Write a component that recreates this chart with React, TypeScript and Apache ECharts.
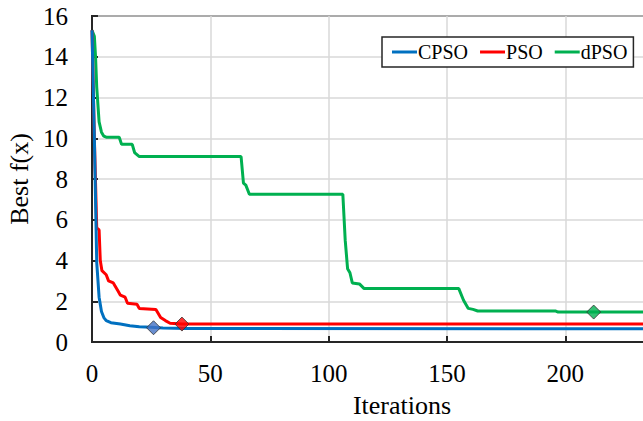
import React, { useEffect, useRef } from "react";
import * as echarts from "echarts";

const seriesNames = ["CPSO", "PSO", "dPSO"];
const colors = ["#0070C0", "#FF0000", "#00B050"];
const markerFills = ["#4472C4", "#FF0000", "#00B050"];

const cpsoIter = [0, 1, 2, 3, 4, 5, 6, 8, 12, 16, 20, 25, 30, 40, 262];
const cpsoVal = [15.3, 10, 3.9, 2.2, 1.5, 1.2, 1.05, 0.95, 0.88, 0.8, 0.75, 0.72, 0.69, 0.66, 0.65];

const psoIter = [0, 1, 2, 3, 3.5, 4.2, 6, 7, 9, 11, 12, 14, 15, 19, 20, 27, 28, 29, 31, 33, 38, 262];
const psoVal = [15.3, 10, 5.6, 5.5, 4, 3.5, 3.3, 3.0, 2.9, 2.5, 2.3, 2.2, 1.9, 1.85, 1.65, 1.6, 1.4, 1.2, 1.05, 0.92, 0.88, 0.88];

const dpsoIter = [0, 1, 1.5, 2, 3, 4, 5, 6, 11.5, 12.5, 17, 18, 19, 20, 63, 64, 65, 66.5, 106, 107, 108, 109, 110, 113, 115, 155, 157, 159, 161, 163, 196, 197, 262];
const dpsoVal = [15.3, 15, 14, 12.5, 10.8, 10.3, 10.1, 10.05, 10.05, 9.7, 9.7, 9.3, 9.2, 9.1, 9.1, 7.8, 7.7, 7.25, 7.25, 5, 3.6, 3.4, 2.9, 2.85, 2.62, 2.62, 2.05, 1.65, 1.6, 1.52, 1.52, 1.47, 1.47];

const markerIter = [26, 38, 212];
const markerVal = [0.7, 0.88, 1.47];

const xTickInterval = 50;
const xVisibleMax = 233;
const yMax = 16;
const yInterval = 2;

const FONT = "Liberation Serif";

function pairs(xs: number[], ys: number[]) {
  return xs.map((x, i) => [x, ys[i]]);
}

export default function App() {
  const ref = useRef<HTMLDivElement>(null);
  useEffect(() => {
    if (!ref.current) return;
    const chart = echarts.init(ref.current, undefined, { renderer: "svg" });
    const lineData = [pairs(cpsoIter, cpsoVal), pairs(psoIter, psoVal), pairs(dpsoIter, dpsoVal)];
    const zs = [4, 3, 2];
    const lineSeries = seriesNames.map((name, i) => ({
      name,
      type: "line",
      data: lineData[i],
      showSymbol: false,
      symbol: "none",
      lineStyle: { color: colors[i], width: 3 },
      itemStyle: { color: colors[i] },
      z: zs[i],
    }));
    const markerSeries = markerIter.map((x, i) => ({
      name: seriesNames[i] + "-marker",
      type: "scatter",
      data: [[x, markerVal[i]]],
      symbol: "diamond",
      symbolSize: 14,
      itemStyle: { color: markerFills[i], borderColor: "#333", borderWidth: 1 },
      z: 10,
    }));
    chart.setOption({
      animation: false,
      backgroundColor: "#fff",
      textStyle: { fontFamily: FONT },
      grid: {
        left: 92,
        top: 16,
        width: 620,
        height: 326,
        containLabel: false,
        outerBoundsMode: "none",
        show: true,
        borderColor: "#262626",
        borderWidth: 2,
        backgroundColor: "transparent",
      },
      legend: {
        data: seriesNames,
        left: 382,
        top: 37,
        orient: "horizontal",
        icon: "rect",
        itemWidth: 25,
        itemHeight: 3,
        itemGap: 12,
        padding: [5, 6, 5, 10],
        borderColor: "#262626",
        borderWidth: 1.5,
        backgroundColor: "#fff",
        textStyle: { fontFamily: FONT, fontSize: 20, color: "#000", padding: [0, 0, 0, -4] },
      },
      xAxis: {
        type: "value",
        min: 0,
        max: 262,
        interval: xTickInterval,
        name: "Iterations",
        nameLocation: "middle",
        nameGap: 50,
        nameTextStyle: { fontFamily: FONT, fontSize: 26, color: "#000" },
        axisLine: { show: true, lineStyle: { color: "#262626", width: 2 } },
        axisTick: { show: true, inside: true, length: 6, lineStyle: { color: "#262626", width: 2 } },
        axisLabel: {
          fontFamily: FONT,
          fontSize: 25,
          color: "#000",
          margin: 19,
          showMaxLabel: false,
          formatter: (v: number) => (v > xVisibleMax ? "" : String(v)),
        },
        splitLine: { show: true, lineStyle: { color: "#d9d9d9", width: 1.5 } },
      },
      yAxis: {
        type: "value",
        min: 0,
        max: yMax,
        interval: yInterval,
        name: "Best f(x)",
        nameLocation: "middle",
        nameGap: 52,
        nameTextStyle: { fontFamily: FONT, fontSize: 26, color: "#000" },
        axisLine: { show: true, lineStyle: { color: "#262626", width: 2 } },
        axisTick: { show: true, inside: true, length: 6, lineStyle: { color: "#262626", width: 2 } },
        axisLabel: { fontFamily: FONT, fontSize: 25, color: "#000", margin: 24 },
        splitLine: { show: true, lineStyle: { color: "#d9d9d9", width: 1.5 } },
      },
      series: [...lineSeries.slice().reverse(), ...markerSeries],
    });
    return () => chart.dispose();
  }, []);
  return (
    <div
      ref={ref}
      style={{ position: "absolute", left: 0, top: 0, width: 643, height: 421 }}
    />
  );
}
